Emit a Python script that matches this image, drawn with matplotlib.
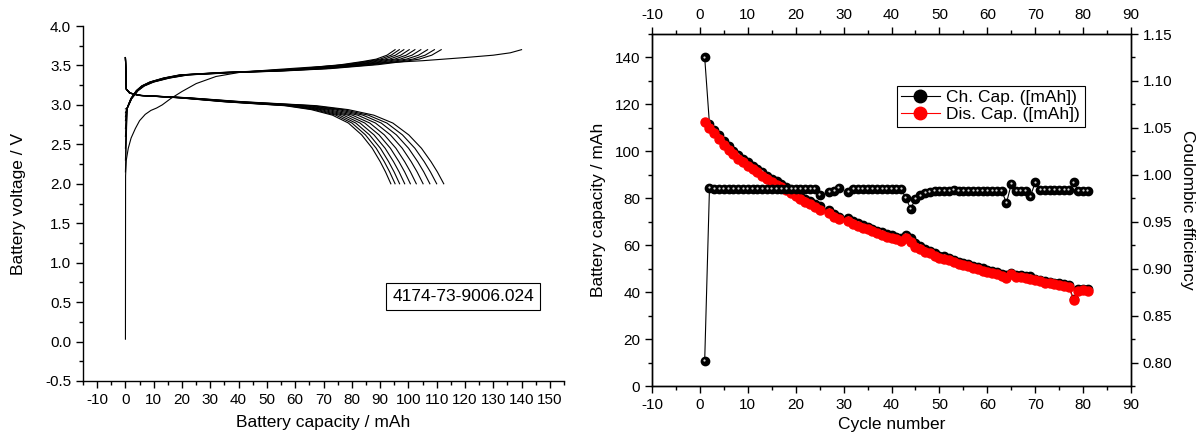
import matplotlib

matplotlib.use("Agg")
import matplotlib.pyplot as plt
import matplotlib.transforms as mtransforms
import numpy as np
from matplotlib.lines import Line2D
from matplotlib.ticker import FormatStrFormatter, MultipleLocator

nan = np.nan

# cycling data (right panel)
cycles = list(range(1, 82))
ch_cap = [
    140.0, 111.6, 109.2, 106.8, 104.4, 102.3, 100.3, 98.4, 96.8, 95.3,
    93.9, 92.5, 91.1, 89.7, 88.4, 87.2, 86.0, 84.8, 83.5, 82.3,
    81.1, 79.9, 78.7, 77.5, 76.5, nan, 75.0, 73.4, 72.1, nan,
    71.6, 70.3, 69.4, 68.6, 67.8, 67.0, 66.2, 65.5, 64.8, 64.2,
    63.6, 62.9, 64.5, 63.1, 60.8, 59.6, 58.4, 57.5, 56.5, 55.6,
    55.3, 54.5, 53.7, 52.9, 52.5, 51.9, 51.2, 50.7, 50.1, 49.6,
    49.1, 48.5, 47.9, 47.5, 48.3, 47.3, 47.1, 46.7, 46.8, 45.4,
    45.3, 44.7, 44.5, 44.1, 43.7, 43.3, 43.0, 36.9, 41.3, 41.4,
    41.2,
]
dis_cap = [
    112.5, 110.0, 107.6, 105.2, 102.8, 100.7, 98.7, 96.9, 95.3, 93.8,
    92.4, 91.0, 89.6, 88.3, 87.0, 85.8, 84.6, 83.4, 82.2, 81.0,
    79.8, 78.6, 77.4, 76.2, 74.8, nan, 73.6, 72.2, 71.0, nan,
    70.2, 69.2, 68.3, 67.5, 66.7, 65.9, 65.1, 64.4, 63.7, 63.1,
    62.5, 61.9, 63.0, 61.3, 59.3, 58.3, 57.3, 56.5, 55.5, 54.6,
    54.3, 53.5, 52.8, 52.0, 51.6, 51.0, 50.3, 49.8, 49.2, 48.7,
    48.2, 47.6, 47.0, 46.0, 47.8, 46.5, 46.3, 45.9, 45.7, 45.0,
    44.6, 44.0, 43.8, 43.4, 43.0, 42.6, 42.3, 36.6, 40.6, 40.7,
    40.5,
]
coul_eff = [
    0.802, 0.986, 0.985, 0.985, 0.985, 0.985, 0.985, 0.985, 0.985, 0.985,
    0.985, 0.985, 0.985, 0.985, 0.985, 0.985, 0.985, 0.985, 0.985, 0.985,
    0.985, 0.985, 0.985, 0.985, 0.979, nan, 0.982, 0.983, 0.986, nan,
    0.982, 0.985, 0.985, 0.985, 0.985, 0.985, 0.985, 0.985, 0.985, 0.985,
    0.985, 0.985, 0.975, 0.964, 0.974, 0.978, 0.981, 0.982, 0.983, 0.983,
    0.983, 0.983, 0.984, 0.983, 0.983, 0.983, 0.983, 0.983, 0.983, 0.983,
    0.983, 0.983, 0.983, 0.970, 0.990, 0.983, 0.983, 0.983, 0.977, 0.992,
    0.984, 0.984, 0.984, 0.984, 0.984, 0.984, 0.984, 0.992, 0.983, 0.983,
    0.983,
]

# voltage profiles (left panel), cycles 1-10
n_curves = 10
first_charge_cap = [0, 0.05, 0.3, 1, 2, 3.5, 5, 7, 9, 11, 13, 16, 20, 25, 32,
                    40, 50, 62, 75, 90, 105, 120, 130, 136, 140]
first_charge_v = [0.03, 2.1, 2.3, 2.45, 2.58, 2.7, 2.8, 2.88, 2.93, 2.96, 3.0,
                  3.08, 3.17, 3.27, 3.36, 3.41, 3.44, 3.47, 3.5, 3.53, 3.56,
                  3.6, 3.63, 3.66, 3.7]
charge_frac = [0, 0.005, 0.02, 0.04, 0.06, 0.09, 0.14, 0.2, 0.35, 0.5, 0.65,
               0.8, 0.88, 0.93, 0.97, 1.0]
charge_v = [None, 2.95, 3.08, 3.18, 3.24, 3.29, 3.34, 3.38, 3.41, 3.43, 3.46,
            3.51, 3.55, 3.58, 3.63, 3.7]
charge_start_v = [2.15, 2.3, 2.45, 2.6, 2.7, 2.8, 2.85, 2.9, 2.95]
dis_frac = [0, 0.003, 0.015, 0.05, 0.2, 0.37, 0.6, 0.7, 0.78, 0.84, 0.89, 0.93,
            0.96, 0.98, 1.0]
dis_v = [3.6, 3.2, 3.15, 3.12, 3.09, 3.04, 2.99, 2.94, 2.87, 2.77, 2.62, 2.45,
         2.28, 2.15, 2.0]

plt.rcParams["font.family"] = ["Liberation Sans", "DejaVu Sans"]
plt.rcParams["font.size"] = 12.5
plt.rcParams["xtick.labelsize"] = 11
plt.rcParams["ytick.labelsize"] = 11
plt.rcParams["axes.linewidth"] = 1.0
plt.rcParams["axes.unicode_minus"] = False

fig = plt.figure(figsize=(12, 4.38), dpi=100)

# ---- left: voltage vs capacity
ax1 = fig.add_axes([83 / 1200, 1 - 381 / 438, (564 - 83) / 1200, (381 - 26) / 438])
lw = 0.8
ax1.plot(first_charge_cap, first_charge_v, color="black", lw=lw)
for i in range(1, n_curves):
    v = [charge_start_v[i - 1]] + charge_v[1:]
    ax1.plot(np.array(charge_frac) * ch_cap[i], v, color="black", lw=lw)
for i in range(n_curves):
    ax1.plot(np.array(dis_frac) * dis_cap[i], dis_v, color="black", lw=lw)

ax1.set_xlim(-15, 155)
ax1.set_ylim(-0.5, 4.0)
ax1.xaxis.set_major_locator(MultipleLocator(10))
ax1.xaxis.set_minor_locator(MultipleLocator(5))
ax1.yaxis.set_major_locator(MultipleLocator(0.5))
ax1.yaxis.set_minor_locator(MultipleLocator(0.25))
ax1.yaxis.set_major_formatter(FormatStrFormatter("%.1f"))
ax1.spines["top"].set_visible(False)
ax1.spines["right"].set_visible(False)
ax1.tick_params(which="major", direction="out", length=5, width=1)
ax1.tick_params(which="minor", direction="out", length=3, width=1)
ax1.set_xlabel("Battery capacity / mAh", labelpad=6)
ax1.set_ylabel("Battery voltage / V", labelpad=14)
ax1.text(119.4, 0.57, "4174-73-9006.024", ha="center", va="center",
         bbox=dict(boxstyle="square,pad=0.35", fc="white", ec="black", lw=0.8))

# ---- right: capacity & coulombic efficiency vs cycle
ax2 = fig.add_axes([652 / 1200, 1 - 386 / 438, (1131 - 652) / 1200, (386 - 34) / 438])
ax2.plot(cycles, ch_cap, color="black", lw=0.8, marker="o", ms=6, zorder=2)
ax2.plot(cycles, dis_cap, color="red", lw=0.8, marker="o", ms=6.5, mec="red", zorder=3)
hl = ax2.transData + mtransforms.ScaledTranslation(-0.4 / 100, 0.8 / 100, fig.dpi_scale_trans)
ax2.plot(cycles, ch_cap, ls="none", marker="o", ms=1.6, color="#d8d8d8", mew=0,
         transform=hl, zorder=2.5)
ax2.set_xlim(-10, 90)
ax2.set_ylim(0, 150)
ax2.xaxis.set_major_locator(MultipleLocator(10))
ax2.xaxis.set_minor_locator(MultipleLocator(5))
ax2.yaxis.set_major_locator(MultipleLocator(20))
ax2.yaxis.set_minor_locator(MultipleLocator(10))
ax2.tick_params(which="both", direction="out", top=True, labeltop=True)
ax2.tick_params(which="major", length=5, width=1)
ax2.tick_params(which="minor", length=3, width=1)
ax2.set_xlabel("Cycle number", labelpad=4)
ax2.set_ylabel("Battery capacity / mAh", labelpad=6)

ax3 = ax2.twinx()
ax3.plot(cycles, coul_eff, color="black", lw=0.8, marker="o", ms=6)
hl3 = ax3.transData + mtransforms.ScaledTranslation(-0.4 / 100, 0.8 / 100, fig.dpi_scale_trans)
ax3.plot(cycles, coul_eff, ls="none", marker="o", ms=1.6, color="#d8d8d8", mew=0,
         transform=hl3)
ax3.set_ylim(0.775, 1.15)
ax3.yaxis.set_major_locator(MultipleLocator(0.05))
ax3.yaxis.set_minor_locator(MultipleLocator(0.025))
ax3.yaxis.set_major_formatter(FormatStrFormatter("%.2f"))
ax3.tick_params(which="both", direction="out")
ax3.tick_params(which="major", length=5, width=1)
ax3.tick_params(which="minor", length=3, width=1)
ax3.set_ylabel("Coulombic efficiency", rotation=270, labelpad=16)

handles = [
    Line2D([], [], color="black", lw=0.8, marker="o", ms=9),
    Line2D([], [], color="red", lw=0.8, marker="o", ms=9),
]
leg = ax3.legend(handles, ["Ch. Cap. ([mAh])", "Dis. Cap. ([mAh])"],
                 loc="upper left", bbox_to_anchor=(897 / 1200, 1 - 86 / 438),
                 bbox_transform=fig.transFigure, borderaxespad=0, fancybox=False,
                 edgecolor="black", framealpha=1, handlelength=2.2,
                 handletextpad=0.4, borderpad=0.25, labelspacing=0.1)
leg.get_frame().set_linewidth(0.8)

fig.savefig("out.png", dpi=100)
